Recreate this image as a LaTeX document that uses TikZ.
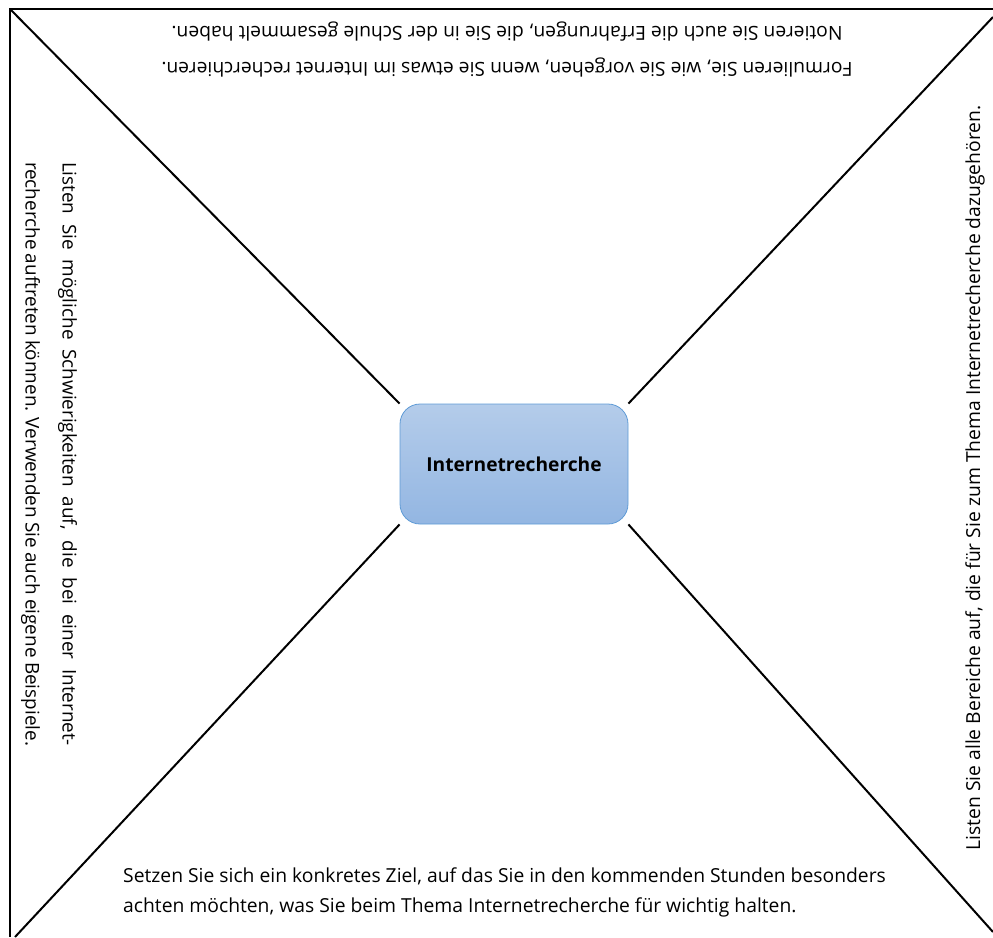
\documentclass[tikz,border=0pt]{standalone}
\usepackage{fontspec}
\setmainfont{Open Sans}
\definecolor{boxtop}{HTML}{B4CCEA}
\definecolor{boxbottom}{HTML}{93B6E2}
\definecolor{boxline}{HTML}{5F9BD6}
\tikzset{
  hint/.style={inner sep=0pt, font=\fontsize{19.3}{30}\selectfont},
  topic/.style={draw=boxline, line width=0.8pt, rounded corners=20pt,
    top color=boxtop, bottom color=boxbottom,
    minimum width=228pt, minimum height=120pt,
    font=\bfseries\fontsize{19.2}{22}\selectfont},
  rim/.style={line width=2pt}
}
\begin{document}
\begin{tikzpicture}[x=1pt,y=-1pt]
  \useasboundingbox (0,0) rectangle (993,937);
  % frame
  \coordinate (tl) at (10,9);
  \coordinate (tr) at (993,9);
  \coordinate (bl) at (10,937);
  \coordinate (dtr) at (993,17);
  \coordinate (dbl) at (15,937);
  \coordinate (dbr) at (993,932);
  \draw[rim] (tr) -- (tl) -- (bl);
  % centre
  \node[topic] (topic) at (514,464) {Internetrecherche};
  \draw[rim] (tl) -- (topic.north west);
  \draw[rim] (dtr) -- (topic.north east);
  \draw[rim] (dbl) -- (topic.south west);
  \draw[rim] (dbr) -- (topic.south east);
  % the four fields
  \node[hint, rotate=180, align=center,
    font=\fontsize{19.3}{36}\selectfont] (upper) at (507,50)
    {Formulieren Sie, wie Sie vorgehen, wenn Sie etwas im Internet recherchieren.\\
     Notieren Sie auch die Erfahrungen, die Sie in der Schule gesammelt haben.};
  \node[hint, anchor=west, align=left] (lower) at (123,892)
    {Setzen Sie sich ein konkretes Ziel, auf das Sie in den kommenden Stunden besonders\\
     achten möchten, was Sie beim Thema Internetrecherche für wichtig halten.};
  \node[hint, rotate=-90, text width=584pt, align=justify,
    font=\fontsize{18.9}{37}\selectfont] (left) at (49,454)
    {Listen Sie mögliche Schwierigkeiten auf, die bei einer Internet-\linebreak
     recherche auftreten können. Verwenden Sie auch eigene Beispiele.};
  \node[hint, rotate=90] (right) at (975,478)
    {Listen Sie alle Bereiche auf, die für Sie zum Thema Internetrecherche dazugehören.};
\end{tikzpicture}
\end{document}
